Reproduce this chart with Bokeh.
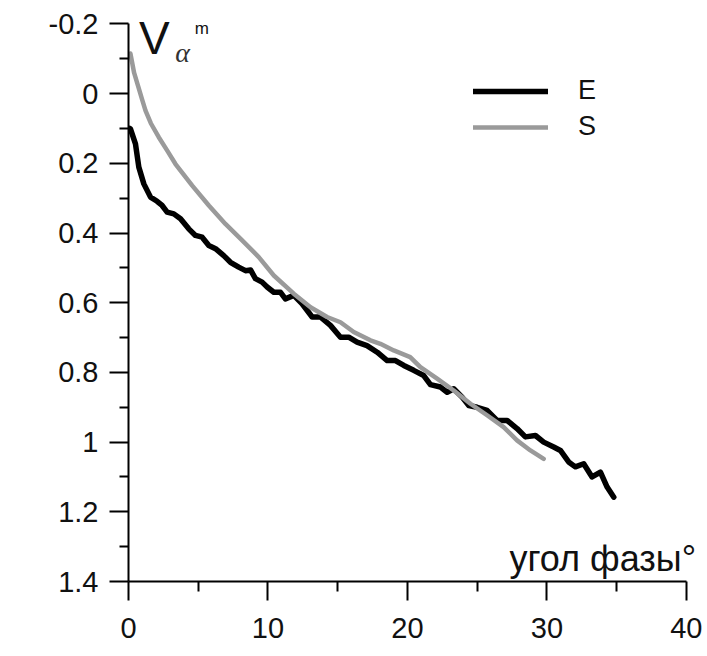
from bokeh.plotting import figure
from bokeh.models import Range1d, FixedTicker, Label, Legend, LegendItem
from bokeh.embed import file_html
from bokeh.resources import INLINE

# ---- data ----
e_x = [0.1, 0.14, 0.5, 0.74, 1.1, 1.58, 2.05, 2.41, 2.77, 3.25, 3.73, 4.32, 4.8, 5.28, 5.76,
       6.24, 6.83, 7.31, 7.9, 8.39, 8.75, 9.1, 9.58, 9.94, 10.42, 10.9, 11.25, 11.85, 12.45,
       13.17, 13.76, 14.48, 15.2, 15.79, 16.39, 17.1, 17.83, 18.55, 19.14, 19.74, 20.45,
       21.17, 21.65, 22.37, 22.85, 23.32, 23.92, 24.4, 25.0, 25.71, 26.43, 27.15, 27.86,
       28.46, 29.18, 29.77, 30.49, 30.97, 31.56, 32.04, 32.64, 33.24, 33.84, 34.32, 34.8]
e_y = [0.10, 0.101, 0.144, 0.211, 0.259, 0.297, 0.309, 0.321, 0.340, 0.345, 0.359, 0.388,
       0.407, 0.412, 0.436, 0.445, 0.465, 0.484, 0.498, 0.508, 0.506, 0.531, 0.541, 0.555,
       0.570, 0.570, 0.589, 0.579, 0.603, 0.641, 0.641, 0.665, 0.699, 0.699, 0.713, 0.723,
       0.742, 0.766, 0.766, 0.780, 0.794, 0.809, 0.835, 0.842, 0.857, 0.847, 0.871, 0.895,
       0.900, 0.909, 0.938, 0.938, 0.961, 0.985, 0.981, 1.0, 1.014, 1.024, 1.057, 1.071,
       1.062, 1.10, 1.086, 1.129, 1.158]

s_x = [0.14, 0.4, 0.7, 1.0, 1.22, 1.6, 2.17, 2.8, 3.37, 4.57, 5.76, 6.95, 8.15, 9.34, 10.42,
       11.85, 13.05, 14.24, 15.2, 16.15, 17.35, 18.06, 19.02, 20.2, 20.93, 22.13, 23.32,
       24.52, 25.71, 26.9, 27.86, 28.82, 29.77]
s_y = [-0.115, -0.06, -0.02, 0.02, 0.049, 0.085, 0.125, 0.165, 0.202, 0.264, 0.321, 0.374,
       0.421, 0.469, 0.522, 0.574, 0.613, 0.641, 0.656, 0.684, 0.708, 0.718, 0.737, 0.756,
       0.785, 0.818, 0.852, 0.89, 0.923, 0.957, 0.995, 1.024, 1.048]

x_ticks = [0, 10, 20, 30, 40]
x_minor = [5, 15, 25, 35]
y_ticks = [-0.2, 0.0, 0.2, 0.4, 0.6, 0.8, 1.0, 1.2, 1.4]
y_tick_labels = ["-0.2", "0", "0.2", "0.4", "0.6", "0.8", "1", "1.2", "1.4"]
y_minor = [-0.1, 0.1, 0.3, 0.5, 0.7, 0.9, 1.1, 1.3]

FONT = "Liberation Sans"
TXT = "#111111"

p = figure(width=705, height=648, x_range=Range1d(0, 40.8), y_range=Range1d(1.4, -0.25),
           output_backend="svg", toolbar_location=None,
           min_border_left=128, min_border_right=8, min_border_top=6, min_border_bottom=67)
p.outline_line_color = None
p.xgrid.visible = False
p.ygrid.visible = False

for ax in (p.xaxis[0], p.yaxis[0]):
    ax.axis_line_width = 2
    ax.axis_line_color = "black"
    ax.major_tick_line_width = 2
    ax.minor_tick_line_width = 2
    ax.major_tick_in = 0
    ax.minor_tick_in = 0
    ax.major_label_text_font = FONT
    ax.major_label_text_font_size = "29px"
    ax.major_label_text_color = TXT

p.xaxis[0].bounds = (0, 40)
p.xaxis[0].ticker = FixedTicker(ticks=x_ticks, minor_ticks=x_minor)
p.xaxis[0].major_tick_out = 19
p.xaxis[0].minor_tick_out = 10
p.xaxis[0].major_label_standoff = 17

p.yaxis[0].bounds = (-0.2, 1.4)
p.yaxis[0].ticker = FixedTicker(ticks=y_ticks, minor_ticks=y_minor)
p.yaxis[0].major_label_overrides = {t: l for t, l in zip(y_ticks, y_tick_labels)}
p.yaxis[0].major_tick_out = 19
p.yaxis[0].minor_tick_out = 9
p.yaxis[0].major_label_standoff = 11

r_e = p.line(e_x, e_y, line_color="black", line_width=5.5, line_join="round", line_cap="round")
r_s = p.line(s_x, s_y, line_color="#9a9a9a", line_width=4.5, line_join="round", line_cap="round")

legend = Legend(items=[LegendItem(label="E", renderers=[r_e]), LegendItem(label="S", renderers=[r_s])],
                location=(345, 439), glyph_width=75, glyph_height=30, label_height=30,
                spacing=5, padding=0, margin=0, label_standoff=30,
                label_text_font=FONT, label_text_font_size="27px", label_text_color=TXT,
                border_line_alpha=0, background_fill_alpha=0)
p.add_layout(legend)

p.add_layout(Label(x=0.75, y=-0.161, text="V", text_font=FONT, text_font_size="46px",
                   text_color=TXT, text_baseline="alphabetic"))
p.add_layout(Label(x=3.35, y=-0.117, text="α", text_font="Liberation Serif", text_font_style="italic",
                   text_font_size="28px", text_color="#333333", text_baseline="alphabetic"))
p.add_layout(Label(x=4.75, y=-0.187, text="m", text_font=FONT, text_font_size="17px",
                   text_color=TXT, text_baseline="alphabetic"))
p.add_layout(Label(x=40.7, y=1.333, text="угол фазы°", text_font=FONT, text_font_size="36px",
                   text_color=TXT, text_align="right", text_baseline="alphabetic"))

open("out.html", "w").write(file_html(p, INLINE))
